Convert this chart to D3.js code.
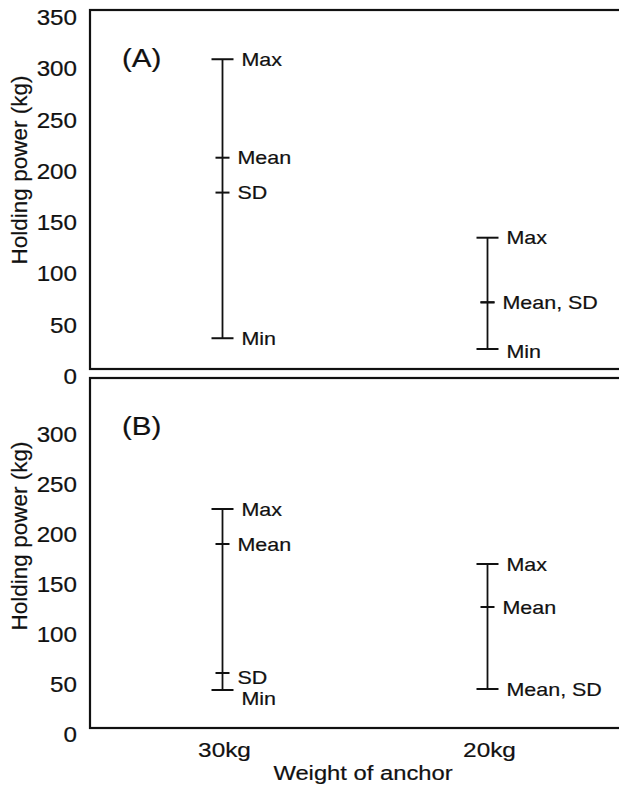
<!DOCTYPE html>
<html>
<head>
<meta charset="utf-8">
<script src="https://cdn.jsdelivr.net/npm/d3@7"></script>
<style>
  html, body { margin: 0; padding: 0; background: #fff; }
  svg { display: block; }
  text { font-family: "Liberation Sans", Arial, Helvetica, sans-serif; fill: #111; stroke: #111; stroke-width: 0.2px; }
</style>
</head>
<body>
<svg id="chart" width="619" height="790"></svg>
<script>
// ---- data ----
const categories = ["30kg", "20kg"];
const statNames = ["max", "mean", "sd", "min"];

// Panel A
const maxA  = [302, 128];
const meanA = [206, 65];
const sdA   = [172, 65];
const minA  = [30, 19.5];
const labelsA = [["Max", "Mean", "SD", "Min"], ["Max", "Mean, SD", "", "Min"]];

// Panel B
const maxB  = [219, 164];
const meanB = [184, 121];
const sdB   = [55, 39];
const minB  = [38, 39];
const labelsB = [["Max", "Mean", "SD", "Min"], ["Max", "Mean", "", "Mean, SD"]];

const yTicksA = [0, 50, 100, 150, 200, 250, 300, 350];
const yTicksB = [0, 50, 100, 150, 200, 250, 300];
const panelTags = ["(A)", "(B)"];
const yTitle = "Holding power (kg)";
const xTitle = "Weight of anchor";

// ---- layout / style ----
const sx = 1.16; // horizontal stretch of lettering in the original
const svg = d3.select("#chart");
const left = 90, right = 625;

const x = d3.scalePoint().domain(categories).range([90, 620]).padding(0.5);
const yA = d3.scaleLinear().domain([0, 350]).range([369, 10]);
const yB = d3.scaleLinear().domain([0, 350]).range([728, 378]);

const capHalf = {max: 11, min: 11, mean: 7, sd: 7};
const labelDx = {max: 19, min: 19, mean: 15, sd: 15};
// extra vertical nudges for crowded labels: [panel][category][stat]
const labelNudge = [
  [{}, {min: 3}],
  [{sd: 4, min: 8}, {}]
];

function stretchedText(g, str, tx, ty, size, anchor) {
  return g.append("text")
    .attr("transform", `translate(${tx},${ty}) scale(${sx},1)`)
    .attr("font-size", size)
    .attr("text-anchor", anchor || "start")
    .text(str);
}

function drawPanel(pi, y, ticks, stats, labels, tickBaseline, tagBaseline, titleCy) {
  const g = svg.append("g");
  // frame
  g.append("rect")
    .attr("x", left).attr("y", y.range()[1])
    .attr("width", right - left).attr("height", y.range()[0] - y.range()[1])
    .attr("fill", "none").attr("stroke", "#111").attr("stroke-width", 2.2);

  // y axis labels
  const ax = d3.axisLeft(y).tickValues(ticks).tickSize(0).tickPadding(0).tickFormat(d3.format("d"));
  const ag = g.append("g").attr("transform", "translate(77,0)").call(ax);
  ag.select(".domain").remove();
  ag.selectAll("text")
    .attr("x", 0).attr("dy", null)
    .attr("transform", `translate(0,${tickBaseline}) scale(1.1,1)`)
    .attr("font-size", 22)
    .attr("fill", "#111")
    .attr("font-family", '"Liberation Sans", Arial, sans-serif');

  // y title
  g.append("text")
    .attr("transform", `translate(27,${titleCy}) rotate(-90)`)
    .attr("font-size", 22.5)
    .attr("text-anchor", "middle")
    .text(yTitle);

  // panel tag
  stretchedText(g, panelTags[pi], 122, tagBaseline, 25.5);

  // ranges
  categories.forEach((c, ci) => {
    const cx = x(c);
    const vals = {max: stats.max[ci], mean: stats.mean[ci], sd: stats.sd[ci], min: stats.min[ci]};
    g.append("line")
      .attr("x1", cx).attr("x2", cx)
      .attr("y1", y(vals.min)).attr("y2", y(vals.max))
      .attr("stroke", "#111").attr("stroke-width", 1.8);
    statNames.forEach((s, si) => {
      const yy = y(vals[s]);
      g.append("line")
        .attr("x1", cx - capHalf[s]).attr("x2", cx + capHalf[s])
        .attr("y1", yy).attr("y2", yy)
        .attr("stroke", "#111").attr("stroke-width", 2);
      const lab = labels[ci][si];
      if (lab) {
        const nudge = (labelNudge[pi][ci][s] || 0);
        stretchedText(g, lab, cx + labelDx[s], yy + 6.5 + nudge, 18.5);
      }
    });
  });
}

drawPanel(0, yA, yTicksA, {max: maxA, mean: meanA, sd: sdA, min: minA}, labelsA, 14.5, 67, 170);
drawPanel(1, yB, yTicksB, {max: maxB, mean: meanB, sd: sdB, min: minB}, labelsB, 13.5, 435, 536);

// x axis category labels
const xg = svg.append("g");
categories.forEach(c => {
  stretchedText(xg, c, x(c) + 2, 757, 21, "middle");
});
stretchedText(xg, xTitle, 363, 780, 20.5, "middle");
</script>
</body>
</html>
